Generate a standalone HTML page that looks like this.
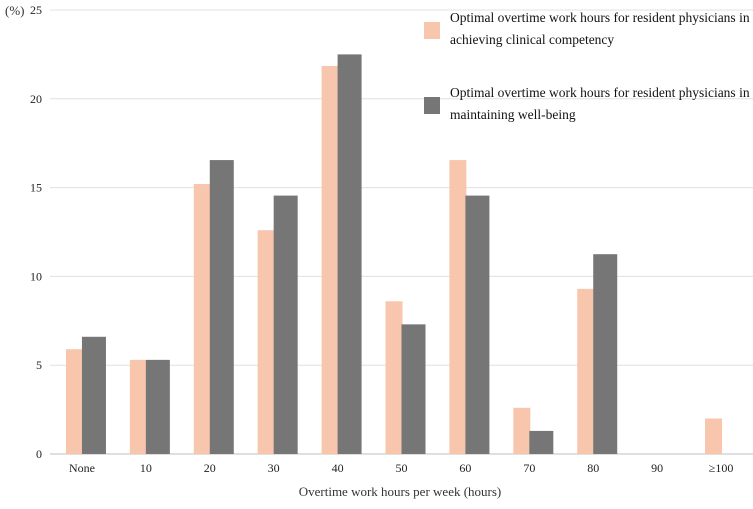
<!DOCTYPE html>
<html><head><meta charset="utf-8"><style>
html,body{margin:0;padding:0;background:#fff;}
svg text{font-family:"Liberation Serif",serif;fill:#333;}
</style></head><body>
<svg id="chart" width="753" height="504" xmlns="http://www.w3.org/2000/svg">
<g id="grid"></g><g id="bars"></g><g id="labels"></g>
<text x="5" y="15" font-size="13">(%)</text>
<text x="400" y="496" font-size="13" text-anchor="middle">Overtime work hours per week (hours)</text>
<g>
<rect x="424" y="22" width="16" height="17" fill="#f7c6ad"/>
<text x="450" y="22" font-size="13.5" style="fill:#111"><tspan x="450">Optimal overtime work hours for resident physicians in</tspan><tspan x="450" dy="22">achieving clinical competency</tspan></text>
<rect x="424" y="97" width="16" height="17" fill="#767676"/>
<text x="450" y="97" font-size="13.5" style="fill:#111"><tspan x="450">Optimal overtime work hours for resident physicians in</tspan><tspan x="450" dy="22">maintaining well-being</tspan></text>
</g>
</svg>
<script>
const categories=["None","10","20","30","40","50","60","70","80","90","\u2265100"];
const competency=[5.9,5.3,15.2,12.6,21.85,8.6,16.55,2.6,9.3,0,2.0];
const wellbeing=[6.6,5.3,16.55,14.55,22.5,7.3,14.55,1.3,11.25,0,0];
const yTicks=[0,5,10,15,20,25];
const NS="http://www.w3.org/2000/svg";
const x0=50,x1=753,y0=454,y1=10,yMax=25;
const bw=(x1-x0)/categories.length;
const yS=v=>y0-(v/yMax)*(y0-y1);
const xC=i=>x0+bw*(i+0.5);
function mk(t,a,p){const e=document.createElementNS(NS,t);for(const k in a)e.setAttribute(k,a[k]);p.appendChild(e);return e;}
const grid=document.getElementById('grid'),bars=document.getElementById('bars'),lab=document.getElementById('labels');
yTicks.forEach(v=>{
 const l=mk('line',{x1:x0,x2:x1,y1:yS(v),y2:yS(v),stroke:v===0?'#bfbfbf':'#e0e0e0','stroke-width':1},grid);
 
 
 const t=mk('text',{x:42,y:yS(v)+4,'font-size':12,'text-anchor':'end',style:'fill:#222'},lab);
 t.textContent=v;
 
 
});
categories.forEach((c,i)=>{
 const cx=xC(i);
 const a=mk('rect',{x:cx-16,y:yS(competency[i]),width:17,height:y0-yS(competency[i]),fill:'#f7c6ad'},bars);
 
 
 const b=mk('rect',{x:cx,y:yS(wellbeing[i]),width:24,height:y0-yS(wellbeing[i]),fill:'#767676'},bars);
 
 
 const t=mk('text',{x:cx,y:472,'font-size':12,'text-anchor':'middle',style:'fill:#222'},lab);
 t.textContent=c;
 
 
});
</script>
</body></html>
